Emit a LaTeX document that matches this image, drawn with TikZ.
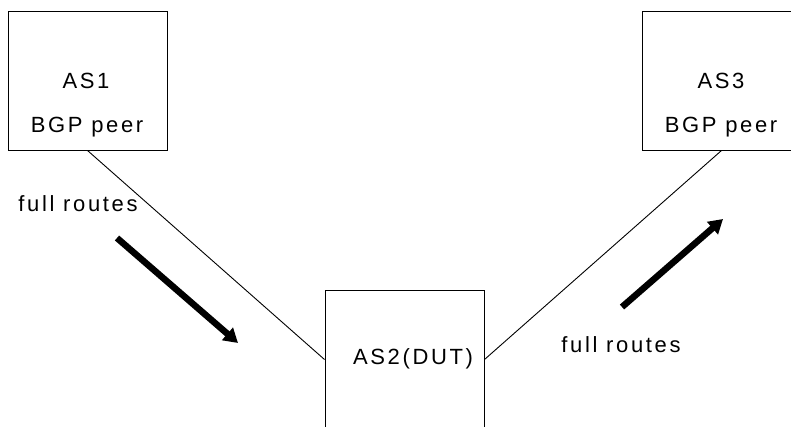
\documentclass[tikz,border=0pt]{standalone}
\usepackage{fontspec}
\setmainfont{Liberation Sans}[LetterSpace=12]
\usetikzlibrary{arrows.meta}

\begin{document}
\begin{tikzpicture}[x=1pt,y=-1pt,
  asbox/.style={draw, line width=1pt, minimum width=159pt, minimum height=139pt, inner sep=0pt},
  lbl/.style={anchor=base, inner sep=0pt, font=\fontsize{22}{26}\selectfont},
  link/.style={line width=0.9pt},
  flow/.style={line width=6.5pt, -{Triangle[length=14pt,width=16pt]}}]
  \path[use as bounding box, clip] (0,0) rectangle (791,426);

  % routers
  \node[asbox] (as1) at (87.5,80.5) {};
  \node[asbox] (as2) at (404.5,359.5) {};
  \node[asbox] (as3) at (721.5,80.5) {};

  \node[lbl] (as1name) at (86,88) {AS1};
  \node[lbl] (as1role) at (87,132) {BGP peer};
  \node[lbl] (as3name) at (721,88) {AS3};
  \node[lbl] (as3role) at (721,132) {BGP peer};
  \node[lbl] (as2name) at (413,364) {AS2(DUT)};

  % sessions
  \draw[link] (as1.south) -- (as2.west);
  \draw[link] (as2.east) -- (as3.south);

  % route flow
  \node[lbl] (in) at (78,211) {full routes};
  \node[lbl] (out) at (621,352) {full routes};
  \coordinate (in1) at (117,238);
  \coordinate (in2) at (238,343);
  \coordinate (out1) at (622,307);
  \coordinate (out2) at (723,219);
  \draw[flow] (in1) -- (in2);
  \draw[flow] (out1) -- (out2);
\end{tikzpicture}
\end{document}
